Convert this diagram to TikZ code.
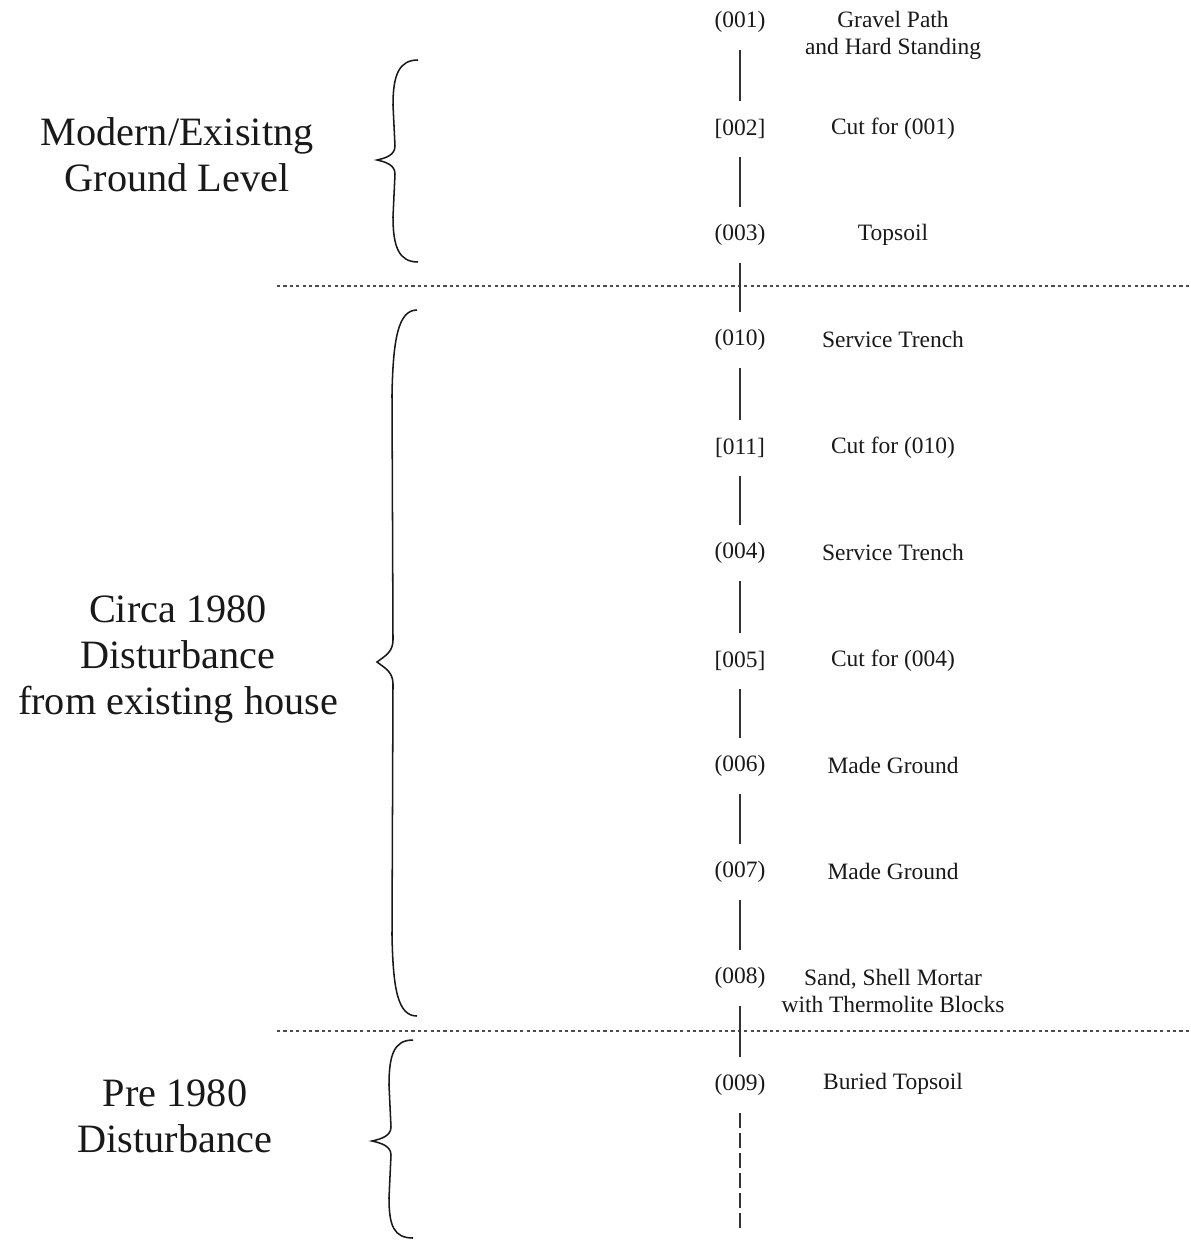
\documentclass[tikz,border=0pt]{standalone}
\usepackage{fontspec}
\setmainfont{Liberation Serif}
\begin{document}
\begin{tikzpicture}[x=0.75pt,y=-0.75pt,
  idnode/.style={inner sep=0pt,minimum height=42pt,font=\fontsize{17.6}{20.3}\selectfont,text=black!90},
  descnode/.style={inner sep=0pt,align=center,font=\fontsize{17.6}{20.3}\selectfont,text=black!90},
  groupnode/.style={inner sep=0pt,align=center,font=\fontsize{30.2}{34.5}\selectfont,text=black!90},
  seqline/.style={line width=1pt,draw=black!80},
  bracepath/.style={line width=1.15pt,draw=black!90},
  boundary/.style={line width=0.8pt,draw=black!70,dash pattern=on 2.4pt off 2.4pt}]
\useasboundingbox (0,0) rectangle (1190,1242);

% boundaries
\coordinate (b1l) at (277,286);
\coordinate (b1r) at (1190,286);
\coordinate (b2l) at (277,1031);
\coordinate (b2r) at (1190,1031);
\draw[boundary] (b1l) -- (b1r);
\draw[boundary] (b2l) -- (b2r);

% context ids
\node[idnode] (n001) at (740,22) {(001)};
\node[idnode] (n002) at (740,129) {[002]};
\node[idnode] (n003) at (740,235) {(003)};
\node[idnode] (n010) at (740,340) {(010)};
\node[idnode] (n011) at (740,448) {[011]};
\node[idnode] (n004) at (740,553) {(004)};
\node[idnode] (n005) at (740,661) {[005]};
\node[idnode] (n006) at (740,766) {(006)};
\node[idnode] (n007) at (740,872) {(007)};
\node[idnode] (n008) at (740,978) {(008)};
\node[idnode] (n009) at (740,1085) {(009)};
\coordinate (bottomend) at (740,1233);

% descriptions
\node[descnode] (d001) at (893,35) {Gravel Path\\and Hard Standing};
\node[descnode] (d002) at (893,129) {Cut for (001)};
\node[descnode] (d003) at (893,235) {Topsoil};
\node[descnode] (d010) at (893,339) {Service Trench};
\node[descnode] (d011) at (893,448) {Cut for (010)};
\node[descnode] (d004) at (893,552) {Service Trench};
\node[descnode] (d005) at (893,661) {Cut for (004)};
\node[descnode] (d006) at (893,765) {Made Ground};
\node[descnode] (d007) at (893,871) {Made Ground};
\node[descnode] (d008) at (893,991) {Sand, Shell Mortar\\with Thermolite Blocks};
\node[descnode] (d009) at (893,1084) {Buried Topsoil};

% sequence lines
\draw[seqline] (n001.south) -- (n002.north);
\draw[seqline] (n002.south) -- (n003.north);
\draw[seqline] (n003.south) -- (n010.north);
\draw[seqline] (n010.south) -- (n011.north);
\draw[seqline] (n011.south) -- (n004.north);
\draw[seqline] (n004.south) -- (n005.north);
\draw[seqline] (n005.south) -- (n006.north);
\draw[seqline] (n006.south) -- (n007.north);
\draw[seqline] (n007.south) -- (n008.north);
\draw[seqline] (n008.south) -- (n009.north);
\draw[seqline,dash pattern=on 11pt off 4pt] (n009.south) -- (bottomend);

% group labels
\node[groupnode] (g1) at (177,155) {Modern/Exisitng\\Ground Level};
\node[groupnode] (g2) at (178,659) {Circa 1980\\Disturbance\\from existing house};
\node[groupnode] (g3) at (175,1116) {Pre 1980\\Disturbance};

% braces
\draw[bracepath] (418,60) .. controls (399,60) and (393,75) .. (393,105)
  -- (395,146) .. controls (395,155) and (386,158) .. (377,160)
  .. controls (386,162) and (395,165) .. (395,174)
  -- (393,217) .. controls (393,247) and (399,262) .. (418,262);
\draw[bracepath] (417,310) .. controls (398,310) and (393,340) .. (392,395)
  -- (393,640) .. controls (393,652) and (385,656) .. (377,662)
  .. controls (385,668) and (393,672) .. (393,684)
  -- (392,935) .. controls (393,990) and (398,1016) .. (417,1016);
\draw[bracepath] (413,1040) .. controls (394,1040) and (389,1055) .. (389,1085)
  -- (391,1127) .. controls (391,1136) and (381,1139) .. (372,1141)
  .. controls (381,1143) and (391,1146) .. (391,1155)
  -- (389,1198) .. controls (389,1226) and (394,1238) .. (413,1238);
\end{tikzpicture}
\end{document}
